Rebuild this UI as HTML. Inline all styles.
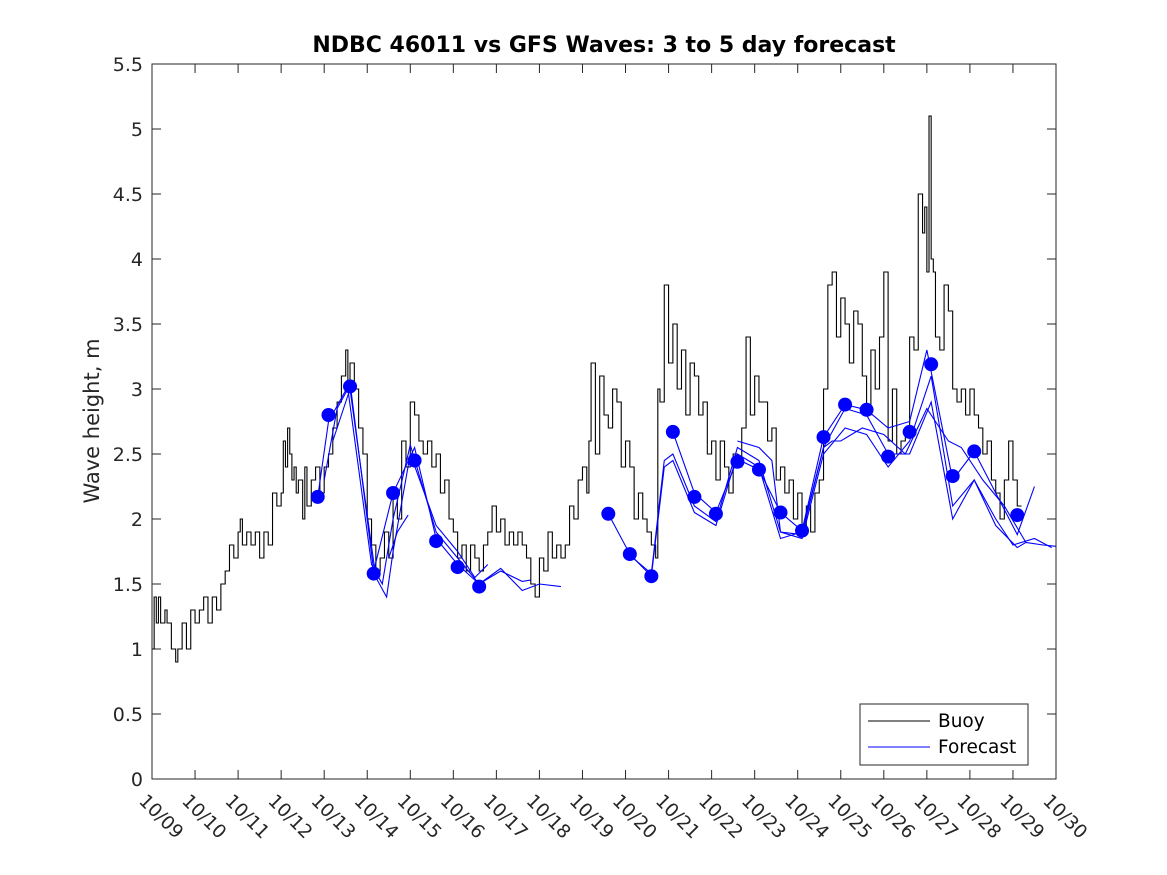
<!DOCTYPE html>
<html><head><meta charset="utf-8"><style>
body{margin:0;background:#fff;}
svg{display:block;font-family:"DejaVu Sans","Liberation Sans",sans-serif;}
</style></head><body>
<svg id="chart" width="1167" height="875" viewBox="0 0 1167 875" xmlns="http://www.w3.org/2000/svg">
<rect width="1167" height="875" fill="#fff"/>
<text x="604" y="52" text-anchor="middle" font-size="22" font-weight="bold" fill="#000">NDBC 46011 vs GFS Waves: 3 to 5 day forecast</text>
<text transform="translate(99,421) rotate(-90)" text-anchor="middle" font-size="21" fill="#262626">Wave height, m</text>
<g id="grid"></g>
<g id="marks"></g>
<rect x="152" y="64" width="904" height="715" fill="none" stroke="#262626" stroke-width="1"/>
<g>
<rect x="860" y="704" width="168" height="61" fill="#fff" stroke="#262626"/>
<line x1="868" y1="721" x2="930" y2="721" stroke="#000"/>
<text x="938" y="727" font-size="18.5" fill="#000">Buoy</text>
<line x1="868" y1="747" x2="930" y2="747" stroke="#0000ff"/>
<text x="938" y="753" font-size="18.5" fill="#000">Forecast</text>
</g>
</svg>
<script>
const xTickLabels=["10/09","10/10","10/11","10/12","10/13","10/14","10/15","10/16","10/17","10/18","10/19","10/20","10/21","10/22","10/23","10/24","10/25","10/26","10/27","10/28","10/29","10/30"];
const yTicks=[0,0.5,1,1.5,2,2.5,3,3.5,4,4.5,5,5.5];
const buoyDay=[9.0,9.05,9.1,9.15,9.2,9.3,9.35,9.45,9.55,9.6,9.7,9.8,9.9,10.0,10.1,10.2,10.3,10.4,10.5,10.6,10.7,10.8,10.9,11.0,11.05,11.1,11.2,11.3,11.4,11.5,11.6,11.7,11.8,11.9,12.0,12.05,12.1,12.15,12.2,12.25,12.3,12.35,12.4,12.5,12.55,12.6,12.7,12.8,12.9,13.0,13.1,13.2,13.3,13.4,13.5,13.55,13.6,13.7,13.8,13.9,14.0,14.1,14.2,14.3,14.4,14.5,14.6,14.7,14.8,14.9,15.0,15.1,15.2,15.3,15.4,15.5,15.6,15.7,15.8,15.9,16.0,16.1,16.2,16.3,16.4,16.5,16.6,16.7,16.8,16.9,17.0,17.1,17.2,17.3,17.4,17.5,17.6,17.7,17.8,17.9,18.0,18.1,18.2,18.3,18.4,18.5,18.6,18.7,18.8,18.9,19.0,19.1,19.15,19.2,19.3,19.4,19.5,19.6,19.7,19.8,19.9,20.0,20.1,20.2,20.3,20.4,20.5,20.6,20.7,20.75,20.8,20.9,21.0,21.1,21.2,21.3,21.4,21.5,21.6,21.7,21.8,21.9,22.0,22.1,22.2,22.3,22.4,22.5,22.6,22.7,22.8,22.9,23.0,23.1,23.2,23.3,23.4,23.5,23.6,23.7,23.8,23.9,24.0,24.1,24.2,24.3,24.4,24.5,24.6,24.7,24.8,24.9,25.0,25.1,25.2,25.3,25.4,25.5,25.6,25.7,25.8,25.9,26.0,26.1,26.2,26.3,26.4,26.5,26.6,26.7,26.8,26.9,26.95,27.0,27.05,27.1,27.15,27.2,27.3,27.4,27.5,27.6,27.7,27.8,27.9,28.0,28.1,28.2,28.3,28.4,28.5,28.6,28.7,28.8,28.9,29.0,29.1,29.2,29.3];
const buoyHeight=[1.0,1.4,1.2,1.4,1.2,1.3,1.2,1.0,0.9,1.0,1.2,1.0,1.3,1.2,1.3,1.4,1.2,1.4,1.3,1.5,1.6,1.8,1.7,1.9,2.0,1.8,1.9,1.8,1.9,1.7,1.9,1.8,2.2,2.1,2.2,2.6,2.4,2.7,2.5,2.3,2.4,2.2,2.3,2.0,2.4,2.1,2.3,2.4,2.2,2.4,2.5,2.7,2.9,3.1,3.3,3.0,3.2,3.0,2.7,2.5,2.0,1.8,1.6,1.7,1.9,1.7,2.2,2.0,2.6,2.4,2.9,2.8,2.6,2.5,2.6,2.4,2.5,2.2,2.3,2.0,1.9,1.7,1.8,1.6,1.8,1.7,1.6,1.8,1.9,2.1,1.9,2.0,1.8,1.9,1.8,1.9,1.8,1.7,1.5,1.4,1.7,1.6,1.9,1.7,1.8,1.7,1.8,2.1,2.0,2.3,2.4,2.2,2.6,3.2,2.5,3.1,2.8,2.7,3.0,2.9,2.4,2.6,2.4,2.0,2.2,2.0,1.9,1.8,1.7,3.0,2.9,3.8,3.2,3.5,3.0,3.3,2.8,3.2,3.1,2.8,2.9,2.5,2.6,2.3,2.6,2.4,2.2,2.5,2.4,2.7,3.4,2.8,3.1,2.9,2.9,2.6,2.7,2.3,2.4,2.2,2.3,2.0,2.2,1.9,2.1,1.9,2.2,2.3,3.0,3.8,3.9,3.4,3.7,3.5,3.2,3.6,3.5,3.1,2.8,3.3,3.0,3.4,3.9,2.6,3.0,2.5,2.6,2.7,3.4,3.3,4.5,4.2,4.4,3.9,5.1,4.0,3.9,3.4,3.3,3.8,3.6,3.0,2.9,3.0,2.8,3.0,2.8,2.7,2.5,2.6,2.3,2.2,2.0,2.3,2.6,2.3,2.1];
const dotDays=[12.85,13.1,13.6,14.15,14.6,15.1,15.6,16.1,16.6,19.6,20.1,20.6,21.1,21.6,22.1,22.6,23.1,23.6,24.1,24.6,25.1,25.6,26.1,26.6,27.1,27.6,28.1,29.1];
const dotHeights=[2.17,2.8,3.02,1.58,2.2,2.45,1.83,1.63,1.48,2.04,1.73,1.56,2.67,2.17,2.04,2.44,2.38,2.05,1.91,2.63,2.88,2.84,2.48,2.67,3.19,2.33,2.52,2.03];
const runADays=[12.85,13.1,13.6,14.15,14.6,15.1,15.6,16.1,16.6,17.1,17.6,17.8];
const runAHeights=[2.17,2.75,3.05,1.6,2.2,2.55,1.85,1.65,1.5,1.6,1.52,1.53];
const runBDays=[13.0,13.3,13.55,14.1,14.35,14.6,15.0,15.6,16.1,16.6,17.1,17.6,18.0,18.5];
const runBHeights=[2.3,2.85,3.0,1.65,1.5,2.0,2.57,1.9,1.7,1.5,1.62,1.45,1.5,1.48];
const runCDays=[13.2,13.6,14.2,14.45,14.6,15.0,15.6,16.1,16.5,16.8];
const runCHeights=[2.6,3.0,1.55,1.4,1.75,2.5,1.95,1.75,1.55,1.65];
const runDDays=[14.5,14.7,14.95];
const runDHeights=[1.7,1.9,2.03];
const runEDays=[19.6,20.1,20.6,20.9,21.1,21.6,22.1,22.6,23.1,23.6,24.1,24.6,25.1,25.6,26.1,26.6,27.1,27.6,28.1,28.6,29.1,29.3,29.7,30.0];
const runEHeights=[2.04,1.73,1.56,2.4,2.45,2.05,1.95,2.5,2.4,1.85,1.9,2.55,2.85,2.8,2.5,2.5,2.9,2.0,2.3,1.95,1.78,1.82,1.8,1.79];
const runFDays=[20.1,20.6,20.9,21.1,21.6,22.1,22.6,23.1,23.6,24.1,24.6,25.1,25.6,26.1,26.6,27.1,27.6,28.1,28.6,29.0,29.5,29.9];
const runFHeights=[1.72,1.58,2.45,2.5,2.1,1.98,2.55,2.45,1.9,1.85,2.5,2.7,2.65,2.4,2.6,3.1,2.1,2.3,2.0,1.8,1.85,1.78];
const runGDays=[21.1,21.6,22.1,22.6,23.1,23.6,24.1,24.6,25.1,25.6,26.1,26.6,27.0,27.6,28.1,28.6,29.1,29.5];
const runGHeights=[2.67,2.2,2.05,2.46,2.38,2.05,1.91,2.63,2.88,2.84,2.7,2.75,3.3,2.3,2.52,2.2,1.88,2.25];
const runHDays=[22.6,23.1,23.4,23.6,24.1,24.6,24.8,25.0,25.5,26.0,26.5,27.0,27.5,27.8,28.3,28.8,29.3];
const runHHeights=[2.6,2.55,2.45,1.9,1.88,2.55,2.6,2.6,2.7,2.65,2.5,2.85,2.6,2.55,2.3,2.1,1.82];

const X0=152,X1=1056,Y0=779,Y1=64;
const xs=d=>X0+(d-9)*(X1-X0)/21;
const ys=v=>Y0-v*(Y0-Y1)/5.5;
const NS="http://www.w3.org/2000/svg";
const grid=document.getElementById('grid'),marks=document.getElementById('marks');
function mk(tag,attrs,parent){const e=document.createElementNS(NS,tag);for(const k in attrs)e.setAttribute(k,attrs[k]);parent.appendChild(e);return e;}
yTicks.forEach(v=>{
  const y=ys(v);
  const l=mk('path',{d:`M${X0},${y}h9M${X1},${y}h-9`,stroke:'#262626',fill:'none'},grid);
  
  
  const t=mk('text',{x:X0-9,y:y+7,'text-anchor':'end','font-size':'19',fill:'#262626'},grid);
  t.textContent=String(v);
  
  
});
xTickLabels.forEach((lab,i)=>{
  const x=xs(9+i);
  const l=mk('path',{d:`M${x},${Y0}v-9M${x},${Y1}v9`,stroke:'#262626',fill:'none'},grid);
  
  
  const t=mk('text',{transform:`translate(${x-14},${Y0+23}) rotate(45)`,'font-size':'18.5',fill:'#262626'},grid);
  t.textContent=lab;
  
  
});
function stairs(ds,hs){let d=`M${xs(ds[0])},${ys(hs[0])}`;for(let i=1;i<ds.length;i++){d+=`L${xs(ds[i])},${ys(hs[i-1])}L${xs(ds[i])},${ys(hs[i])}`;}return d;}
function poly(ds,hs){return ds.map((d,i)=>(i?'L':'M')+xs(d)+','+ys(hs[i])).join('');}
const b=mk('path',{d:stairs(buoyDay,buoyHeight),stroke:'#000',fill:'none','stroke-width':'1.1'},marks);


[[runADays,runAHeights],[runBDays,runBHeights],[runCDays,runCHeights],[runDDays,runDHeights],[runEDays,runEHeights],[runFDays,runFHeights],[runGDays,runGHeights],[runHDays,runHHeights]].forEach(r=>{
  const p=mk('path',{d:poly(r[0],r[1]),stroke:'#0000ff',fill:'none','stroke-width':'1.1'},marks);
  
  
});
dotDays.forEach((d,i)=>{
  const c=mk('circle',{cx:xs(d),cy:ys(dotHeights[i]),r:7,fill:'#0000ff'},marks);
  
  
});
</script>
</body></html>
